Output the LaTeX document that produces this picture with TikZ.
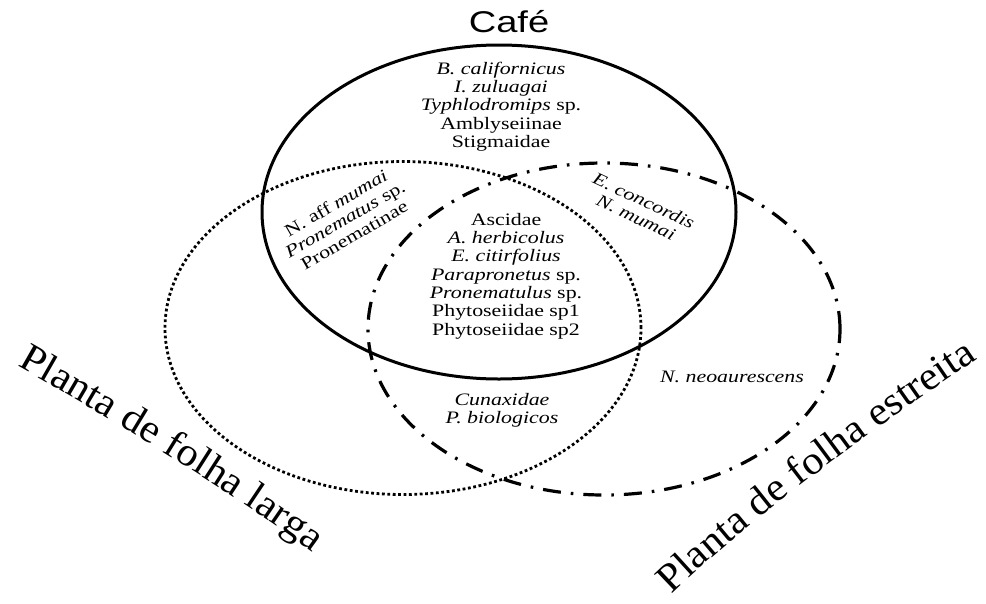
\documentclass[tikz,border=0pt]{standalone}
\usepackage{fontspec}
\usetikzlibrary{decorations.text}
\newfontfamily\spfont[FakeStretch=1.25]{Liberation Serif}
\newfontfamily\labfont[FakeStretch=1.06]{Liberation Serif}
\newfontfamily\cafefont[FakeStretch=1.27]{Liberation Sans}
\tikzset{
  cafeline/.style={line width=3pt},
  largaline/.style={line width=2.8pt, dash pattern=on 2.8pt off 2.6pt},
  estreitaline/.style={line width=3.2pt, dash pattern=on 18pt off 10pt on 2.6pt off 10pt},
  sptext/.style={font=\spfont\fontsize{17.5pt}{18.4pt}\selectfont, inner sep=0pt, anchor=base},
  blocktext/.style={font=\spfont\fontsize{17.5pt}{18.4pt}\selectfont, inner sep=0pt, align=center},
}
\begin{document}
\begin{tikzpicture}[x=1pt,y=-1pt]
\useasboundingbox (0,0) rectangle (986,603);
\fill[white] (0,0) rectangle (986,603);

% sets
\draw[cafeline] (499,212) ellipse [x radius=237pt, y radius=167pt];
\draw[largaline] (403,328) ellipse [x radius=238pt, y radius=166.5pt];
\draw[estreitaline] (604,329) ellipse [x radius=236pt, y radius=166pt];

% title
\node[font=\cafefont\fontsize{30pt}{34pt}\selectfont, inner sep=0pt, anchor=base] (cafe) at (509,32) {Café};

% only cafe
\node[sptext] (c1) at (501,74) {\textit{B. californicus}};
\node[sptext] (c2) at (501,92.4) {\textit{I. zuluagai}};
\node[sptext] (c3) at (501,110.8) {\textit{Typhlodromips} sp.};
\node[sptext] (c4) at (501,129.2) {Amblyseiinae};
\node[sptext] (c5) at (501,147.6) {Stigmaidae};

% cafe and larga
\node[blocktext, rotate=30] (cl) at (345,219) {N. aff \textit{mumai}\\\textit{Pronematus} sp.\\Pronematinae};

% cafe and estreita
\node[blocktext, rotate=-25] (ce) at (640,209) {\textit{E. concordis}\\\textit{N. mumai}};

% all three
\node[sptext] (a1) at (506,225) {Ascidae};
\node[sptext] (a2) at (506,243.3) {\textit{A. herbicolus}};
\node[sptext] (a3) at (506,261.7) {\textit{E. citirfolius}};
\node[sptext] (a4) at (506,280) {\textit{Parapronetus} sp.};
\node[sptext] (a5) at (506,298.3) {\textit{Pronematulus} sp.};
\node[sptext] (a6) at (506,316.7) {Phytoseiidae sp1};
\node[sptext] (a7) at (506,335) {Phytoseiidae sp2};

% larga and estreita
\node[sptext] (le1) at (502,405) {\textit{Cunaxidae}};
\node[sptext] (le2) at (502,423.3) {\textit{P. biologicos}};

% only estreita
\node[sptext] (e1) at (732,382) {\textit{N. neoaurescens}};

% set labels
\path[decorate, decoration={text along path, text align=center,
  text={|\labfont\fontsize{40pt}{44pt}\selectfont|Planta de folha larga}}]
  (0,356) .. controls (95,409) and (235,493) .. (329,564);
\path[decorate, decoration={text along path, text align=center,
  text={|\labfont\fontsize{40pt}{44pt}\selectfont|Planta de folha estreita}}]
  (659,607) .. controls (735,528) and (890,417) .. (992,349);
\end{tikzpicture}
\end{document}
